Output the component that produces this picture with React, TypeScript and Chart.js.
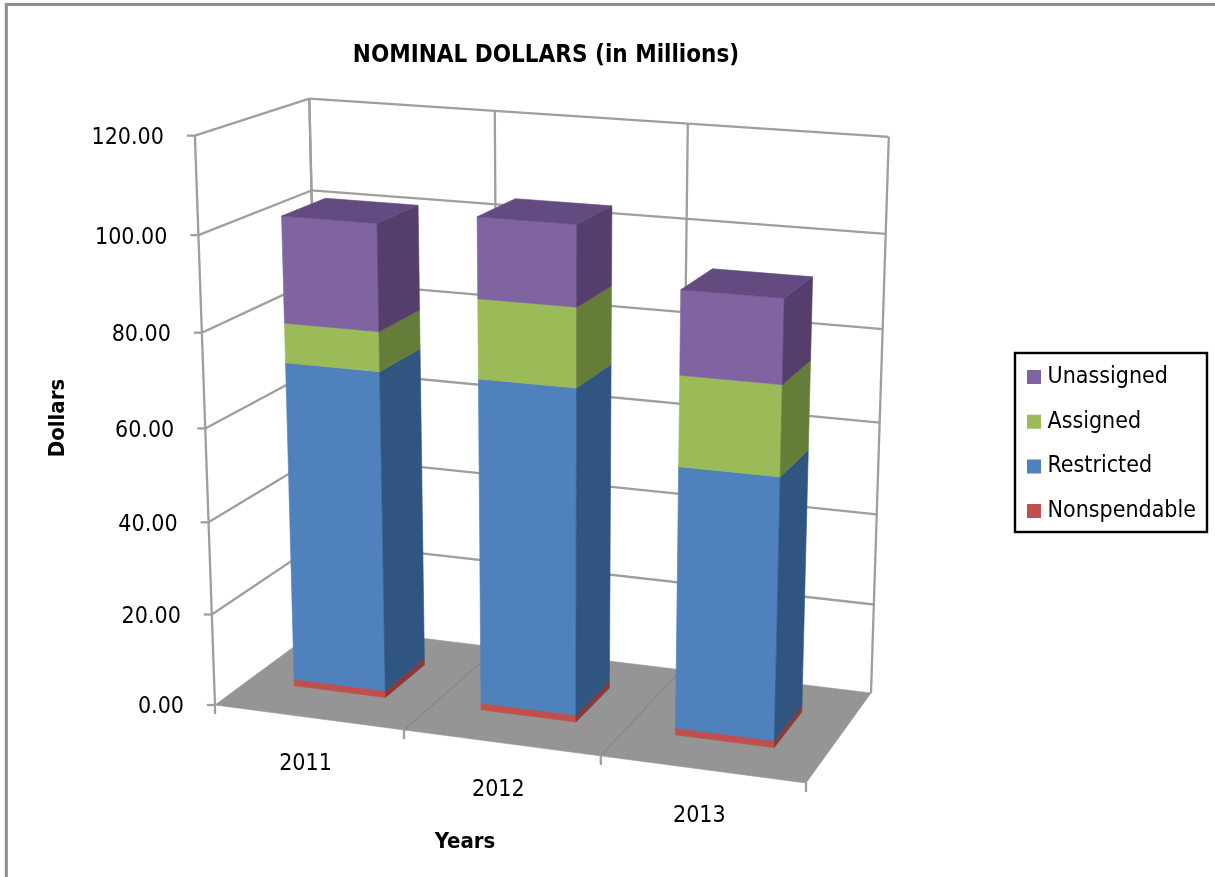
import React, { useEffect, useRef } from "react";
import { Chart, registerables } from "chart.js";

Chart.register(...registerables);

const years = ["2011", "2012", "2013"];
const nonspendable = [1.5, 1.5, 1.5];
const restricted = [69.5, 69.95, 55.75];
const assigned = [8.4, 16.6, 18.8];
const unassigned = [22.4, 16.7, 17.3];

const FONT = "'DejaVu Sans Condensed', 'DejaVu Sans', sans-serif";
const GRID = "#9e9e9e";

// Camera calibration: screen position of the plot box's corners.
const BOX = {
  floorFrontLeft: [215, 705], floorFrontRight: [806, 783], floorBackRight: [871, 693], floorBackLeft: [322, 626],
  topFrontLeft: [195, 136], topBackLeft: [309, 102], topBackRight: [889, 133],
};
const BAR_FRONT = 0.3;
const BAR_BACK = 0.7;
const BAR_SHIFT = -0.0015;

const shades = {
  Nonspendable: { front: "#C0504D", side: "#8A3A38", top: "#9A403E" },
  Restricted: { front: "#4F81BD", side: "#2F5580", top: "#3A6496" },
  Assigned: { front: "#9BBB59", side: "#667D3A", top: "#7C9647" },
  Unassigned: { front: "#8064A2", side: "#553E6B", top: "#634A80" },
};

type Vec = number[];

function makeProjection() {
  const [ax, ay] = BOX.floorFrontLeft, [bx, by] = BOX.floorFrontRight, [cx, cy] = BOX.floorBackRight, [dx, dy] = BOX.floorBackLeft;
  const d1x = bx - cx, d2x = dx - cx, sx = ax - bx + cx - dx;
  const d1y = by - cy, d2y = dy - cy, sy = ay - by + cy - dy;
  const det = d1x * d2y - d2x * d1y;
  const g = (sx * d2y - d2x * sy) / det, h = (d1x * sy - sx * d1y) / det;
  const colU: Vec = [bx - ax + g * bx, by - ay + g * by, g];
  const colW: Vec = [dx - ax + h * dx, dy - ay + h * dy, h];
  const colO: Vec = [ax, ay, 1];

  const samples: [number[], Vec][] = [
    [BOX.topFrontLeft, colO],
    [BOX.topBackLeft, [colO[0] + colW[0], colO[1] + colW[1], colO[2] + colW[2]]],
    [BOX.topBackRight, [colO[0] + colW[0] + colU[0], colO[1] + colW[1] + colU[1], colO[2] + colW[2] + colU[2]]],
  ];
  const rows: Vec[] = [], rhs: number[] = [];
  samples.forEach(([[x, y], q]) => {
    rows.push([1, 0, -x]); rhs.push(x * q[2] - q[0]);
    rows.push([0, 1, -y]); rhs.push(y * q[2] - q[1]);
  });
  const N = [0, 1, 2].map((i) => [0, 1, 2].map((j) => rows.reduce((s, r) => s + r[i] * r[j], 0)));
  const t = [0, 1, 2].map((i) => rows.reduce((s, r, k) => s + r[i] * rhs[k], 0));
  const det3 = (m: number[][]) =>
    m[0][0] * (m[1][1] * m[2][2] - m[1][2] * m[2][1]) - m[0][1] * (m[1][0] * m[2][2] - m[1][2] * m[2][0]) + m[0][2] * (m[1][0] * m[2][1] - m[1][1] * m[2][0]);
  const D = det3(N);
  const colV = [0, 1, 2].map((c) => det3(N.map((row, i) => row.map((val, j) => (j === c ? t[i] : val)))) / D);

  return (u: number, v: number, w: number): [number, number] => {
    const X = colU[0] * u + colV[0] * v + colW[0] * w + colO[0];
    const Y = colU[1] * u + colV[1] * v + colW[1] * w + colO[1];
    const Z = colU[2] * u + colV[2] * v + colW[2] * w + colO[2];
    return [X / Z, Y / Z];
  };
}

const project = makeProjection();

function poly(ctx: CanvasRenderingContext2D, pts: [number, number][], fill: string) {
  ctx.beginPath();
  pts.forEach((p, i) => (i ? ctx.lineTo(p[0], p[1]) : ctx.moveTo(p[0], p[1])));
  ctx.closePath();
  ctx.fillStyle = fill;
  ctx.fill();
  ctx.strokeStyle = fill;
  ctx.lineWidth = 0.6;
  ctx.stroke();
}

function line(ctx: CanvasRenderingContext2D, a: [number, number], b: [number, number], color = GRID, width = 2.3) {
  ctx.beginPath();
  ctx.moveTo(a[0], a[1]);
  ctx.lineTo(b[0], b[1]);
  ctx.strokeStyle = color;
  ctx.lineWidth = width;
  ctx.stroke();
}

const scene3d = {
  id: "scene3d",
  beforeDraw(chart: any) {
    const lg = chart.legend;
    lg.left = 1010.3; lg.right = 1214; lg.top = 343.8; lg.bottom = 600;
    lg.width = 203.7; lg.height = 256.2;
    const tb = chart.titleBlock;
    tb.left = 300; tb.right = 792; tb.width = 492; tb.top = 41; tb.bottom = 71;
    const ctx = chart.ctx as CanvasRenderingContext2D;
    ctx.save();
    ctx.strokeStyle = "#8E8E8E";
    ctx.lineWidth = 3;
    ctx.beginPath();
    ctx.moveTo(6.3, 877);
    ctx.lineTo(6.3, 4.5);
    ctx.lineTo(1215, 4.5);
    ctx.stroke();
    ctx.restore();
  },
  afterDraw(chart: any) {
    const ctx = chart.ctx as CanvasRenderingContext2D;
    ctx.save();
    ctx.strokeStyle = "#000";
    ctx.lineWidth = 2.4;
    ctx.strokeRect(1015, 353, 192, 179);
    ctx.restore();
  },
  beforeDatasetsDraw(chart: any) {
    const ctx = chart.ctx as CanvasRenderingContext2D;
    const area = chart.chartArea;
    const xs = chart.scales.x, ys = chart.scales.y;
    const uOf = (px: number) => (px - area.left) / (area.right - area.left);
    const vOf = (py: number) => (area.bottom - py) / (area.bottom - area.top);
    ctx.save();
    ctx.lineCap = "butt";

    // floor
    poly(ctx, [project(0, 0, 0), project(1, 0, 0), project(1, 0, 1), project(0, 0, 1)], "#959595");
    const nCat = years.length;
    for (let i = 1; i < nCat; i++) line(ctx, project(i / nCat, 0, 0), project(i / nCat, 0, 1), "#888888", 1.2);

    // walls
    ys.ticks.forEach((tick: any) => {
      const v = vOf(ys.getPixelForValue(tick.value));
      if (v > 0) {
        line(ctx, project(0, v, 0), project(0, v, 1));
        line(ctx, project(0, v, 1), project(1, v, 1));
      }
      const [tx, ty] = project(0, v, 0);
      line(ctx, [tx - 8, ty], [tx + 1, ty]);
      ctx.fillStyle = "#000";
      ctx.font = `23px ${FONT}`;
      ctx.textAlign = "right";
      ctx.textBaseline = "middle";
      ctx.fillText(tick.label, tx - 31, ty + 2.5);
    });
    for (let i = 0; i <= nCat; i++) line(ctx, project(i / nCat, 0, 1), project(i / nCat, 1, 1));
    line(ctx, project(0, 0, 0), project(0, 1, 0));
    line(ctx, project(0, 0, 1), project(0, 1, 1));

    // category ticks and labels
    for (let i = 0; i <= nCat; i++) {
      const [tx, ty] = project(i / nCat, 0, 0);
      line(ctx, [tx, ty - 1], [tx, ty + 9]);
    }
    xs.ticks.forEach((tick: any, i: number) => {
      const [tx, ty] = project(uOf(xs.getPixelForTick(i)), 0, 0);
      ctx.fillStyle = "#000";
      ctx.font = `23px ${FONT}`;
      ctx.textAlign = "center";
      ctx.textBaseline = "middle";
      ctx.fillText(tick.label, tx - 3, ty + 47);
    });

    // bars, through the Chart.js elements
    const metas = chart.getSortedVisibleDatasetMetas().slice().sort((a: any, b: any) => a.index - b.index);
    years.forEach((_, i) => {
      let top: any = null;
      metas.forEach((meta: any) => {
        const el = meta.data[i];
        const c = shades[chart.data.datasets[meta.index].label as keyof typeof shades];
        const u0 = uOf(el.x - el.width / 2) + BAR_SHIFT;
        const u1 = uOf(el.x + el.width / 2) + BAR_SHIFT;
        const v0 = vOf(el.base), v1 = vOf(el.y);
        poly(ctx, [project(u0, v0, BAR_FRONT), project(u1, v0, BAR_FRONT), project(u1, v1, BAR_FRONT), project(u0, v1, BAR_FRONT)], c.front);
        poly(ctx, [project(u1, v0, BAR_FRONT), project(u1, v0, BAR_BACK), project(u1, v1, BAR_BACK), project(u1, v1, BAR_FRONT)], c.side);
        top = { u0, u1, v1, c };
      });
      poly(ctx, [project(top.u0, top.v1, BAR_FRONT), project(top.u1, top.v1, BAR_FRONT), project(top.u1, top.v1, BAR_BACK), project(top.u0, top.v1, BAR_BACK)], top.c.top);
    });

    // axis titles
    ctx.fillStyle = "#000";
    ctx.font = `bold 22px ${FONT}`;
    ctx.textAlign = "center";
    ctx.textBaseline = "middle";
    ctx.fillText(xs.options.title.text, 465, 842);
    ctx.translate(58, 418);
    ctx.rotate(-Math.PI / 2);
    ctx.fillText(ys.options.title.text, 0, 0);
    ctx.restore();
    return false;
  },
};

const swatch = (color: string) => ({ backgroundColor: color, borderColor: color, borderWidth: 10 });

export default function App() {
  const ref = useRef<HTMLCanvasElement | null>(null);
  useEffect(() => {
    if (!ref.current) return;
    const chart = new Chart(ref.current, {
      type: "bar",
      data: {
        labels: years,
        datasets: [
          { label: "Nonspendable", data: nonspendable, ...swatch(shades.Nonspendable.front) },
          { label: "Restricted", data: restricted, ...swatch(shades.Restricted.front) },
          { label: "Assigned", data: assigned, ...swatch(shades.Assigned.front) },
          { label: "Unassigned", data: unassigned, ...swatch(shades.Unassigned.front) },
        ],
      },
      options: {
        responsive: false,
        animation: false,
        events: [],
        datasets: { bar: { categoryPercentage: 1, barPercentage: 0.493 } },
        scales: {
          x: { display: false, stacked: true, title: { display: false, text: "Years" } },
          y: {
            display: false,
            stacked: true,
            min: 0,
            max: 120,
            ticks: { stepSize: 20, callback: (v: any) => Number(v).toFixed(2) },
            title: { display: false, text: "Dollars" },
          },
        },
        plugins: {
          tooltip: { enabled: false },
          title: {
            display: true,
            text: "NOMINAL DOLLARS (in Millions)",
            color: "#000",
            font: { family: FONT, size: 24, weight: "bold" },
            padding: 0,
          },
          legend: {
            display: true,
            position: "right",
            align: "start",
            reverse: true,
            labels: {
              color: "#000",
              font: { family: FONT, size: 23 },
              boxWidth: 4,
              boxHeight: 4,
              padding: 21.7,
            },
          },
        },
      },
      plugins: [scene3d],
    } as any);
    return () => chart.destroy();
  }, []);
  return <canvas ref={ref} width={1215} height={877} style={{ position: "absolute", left: 0, top: 0, display: "block" }} />;
}
